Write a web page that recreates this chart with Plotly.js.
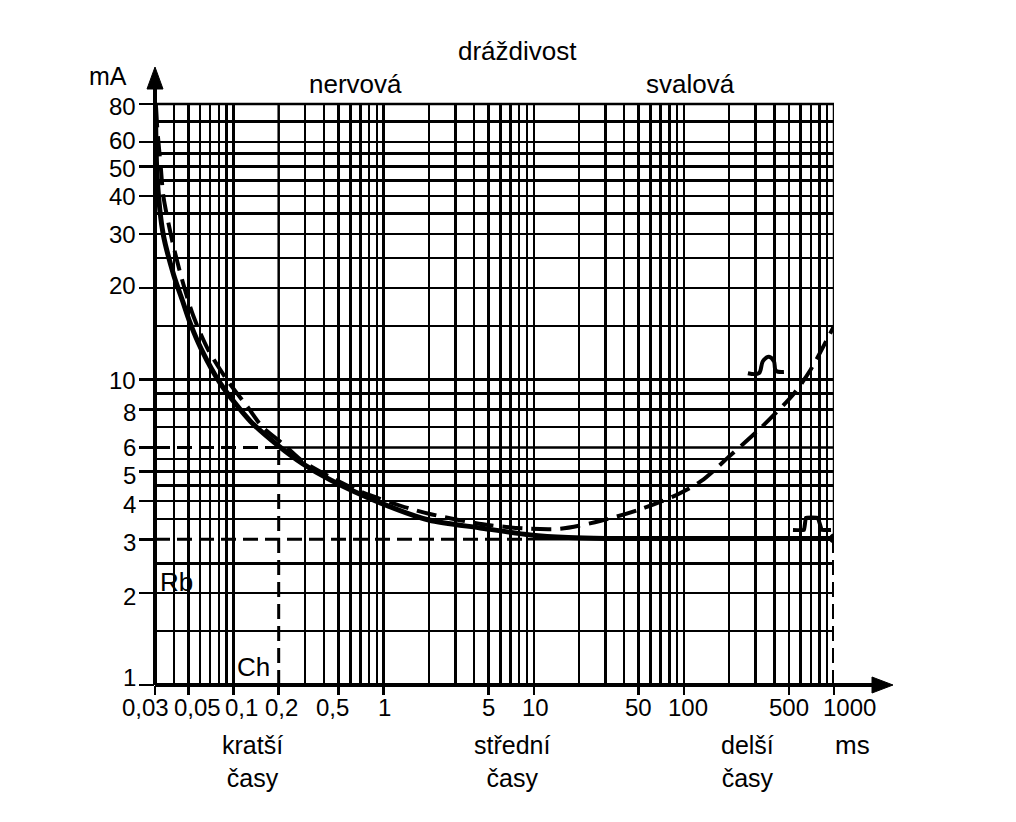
<!DOCTYPE html>
<html>
<head>
<meta charset="utf-8">
<script src="https://cdn.plot.ly/plotly-3.0.1.min.js"></script>
<style>html,body{margin:0;padding:0;background:#fff;}#chart{width:1016px;height:822px;}</style>
</head>
<body>
<div id="chart"></div>
<script>
// ---- data ----
const solidT = [0.0302, 0.031, 0.034, 0.040, 0.046, 0.051, 0.061, 0.082, 0.13, 0.197, 0.29, 0.44, 0.95, 2.0, 4.4, 9.5, 17, 30, 100, 1000];
const solidI = [80, 46, 30, 22, 18, 15.5, 12.6, 9.7, 7.3, 6.1, 5.3, 4.7, 3.95, 3.47, 3.27, 3.10, 3.04, 3.02, 3.02, 3.02];

const dashT = [0.0305, 0.0311, 0.0328, 0.0341, 0.0394, 0.0464, 0.0542, 0.068, 0.093, 0.124, 0.156, 0.215, 0.29, 0.44, 0.70, 1.5, 2.1, 4.6, 8.5, 15, 28, 50, 90, 130, 200, 330, 540, 700, 1000];
const dashI = [78, 66, 49.5, 40, 28, 20.5, 16.1, 12.5, 9.8, 8.15, 7.0, 6.15, 5.4, 4.8, 4.3, 3.78, 3.62, 3.36, 3.26, 3.25, 3.45, 3.75, 4.2, 4.65, 5.6, 7.0, 9.0, 10.8, 15];

const rheobase = 3;        // Rb, mA
const chronaxie = 0.2;     // Ch, ms
const rheobaseLineEnd = 9; // ms, where the dashed Rb line meets the curve

// small pulse-shape glyphs drawn on the chart
const expPulseT = [267, 316, 336, 369, 398, 410, 464];
const expPulseI = [10.5, 10.5, 11.5, 11.9, 11.5, 10.7, 10.6];
const rectPulseT = [533, 631, 650, 780, 830, 955];
const rectPulseI = [3.22, 3.22, 3.53, 3.53, 3.22, 3.22];

// axes
const xMin = 0.03, xMax = 1000, yMin = 1, yMax = 80;
const xTickVals = [0.03, 0.05, 0.1, 0.2, 0.5, 1, 5, 10, 50, 100, 500, 1000];
const xTickText = ['0,03', '0,05', '0,1', '0,2', '0,5', '1', '5', '10', '50', '100', '500', '1000'];
const yTickVals = [1, 2, 3, 4, 5, 6, 8, 10, 20, 30, 40, 50, 60, 80];
const yTickText = ['1', '2', '3', '4', '5', '6', '8', '10', '20', '30', '40', '50', '60', '80'];
const gridDigits = [1, 2, 3, 4, 5, 6, 7, 8, 9];
const gridDecades = [0.01, 0.1, 1, 10, 100];
// full-height horizontal grid lines (3 and 6 are drawn separately, partly dashed)
const yGrid = [1.5, 2, 2.5, 3.5, 4, 4.5, 5, 5.5, 7, 8, 9, 10, 15, 20, 25, 30, 35, 40, 45, 50, 55, 60, 70];

// ---- layout helpers ----
const W = 1016, H = 822;
const M = {l: 155, r: 182, t: 104, b: 137};
const PW = W - M.l - M.r, PH = H - M.t - M.b;
const FONT = 'Liberation Sans, Arial, Helvetica, sans-serif';
const px = v => (v - M.l) / PW;
const py = v => (H - M.b - v) / PH;

const xGrid = [];
gridDecades.forEach(d => gridDigits.forEach(g => {
  const v = +(g * d).toPrecision(3);
  if (v > xMin + 1e-9 && v < xMax - 1e-9 && Math.abs(v - chronaxie) > 1e-9) xGrid.push(v);
}));

const xLabelShift = [-10, 9, 8, 3, -6, 1, 0, 2, 0, 4, 0, 15];
const yLabelShift = [8, -3, -3, -3, -4, 0, -3, -1, 2, 0, -1, -2.5, 1.5, -2];

const DASH = '15px,7px';
const GRIDW = 2.5;
const gridSeg = (x, y) => ({x: x, y: y, mode: 'lines', line: {color: '#000', width: GRIDW}, hoverinfo: 'skip'});
const traces = [
  // grid pieces that are not dashed
  gridSeg([chronaxie, xMax], [2 * rheobase, 2 * rheobase]),
  gridSeg([chronaxie, chronaxie], [2 * rheobase, yMax]),
  gridSeg([rheobaseLineEnd, xMax], [rheobase, rheobase]),
  gridSeg([xMax, xMax], [rheobase, yMax]),
  // dashed reference lines (2·Rb, Ch, Rb)
  {x: [xMin, chronaxie], y: [2 * rheobase, 2 * rheobase], mode: 'lines',
   line: {color: '#000', width: 3, dash: DASH}, hoverinfo: 'skip'},
  {x: [chronaxie, chronaxie], y: [yMin, 2 * rheobase], mode: 'lines',
   line: {color: '#000', width: 3, dash: DASH}, hoverinfo: 'skip'},
  {x: [xMin, rheobaseLineEnd], y: [rheobase, rheobase], mode: 'lines',
   line: {color: '#000', width: 3, dash: DASH}, hoverinfo: 'skip'},
  {x: [xMax, xMax], y: [yMin, rheobase], mode: 'lines',
   line: {color: '#000', width: 4, dash: DASH}, hoverinfo: 'skip'},
  // curves
  {x: dashT, y: dashI, mode: 'lines',
   line: {color: '#000', width: 4, dash: '20px,9px', shape: 'spline', smoothing: 0.8}},
  {x: solidT, y: solidI, mode: 'lines',
   line: {color: '#000', width: 5, shape: 'spline', smoothing: 0.8}},
  {x: [solidT[solidT.length - 1]], y: [solidI[solidI.length - 1]], mode: 'markers',
   marker: {color: '#000', size: 10}},
  {x: expPulseT, y: expPulseI, mode: 'lines',
   line: {color: '#000', width: 4, shape: 'spline', smoothing: 1}},
  {x: rectPulseT, y: rectPulseI, mode: 'lines',
   line: {color: '#000', width: 4, shape: 'spline', smoothing: 0.2}}
];

const annotations = [];
xTickVals.forEach((v, i) => {
  annotations.push({xref: 'x', yref: 'paper', x: Math.log10(v), y: py(707),
    xanchor: 'center', yanchor: 'middle', xshift: xLabelShift[i],
    text: xTickText[i], showarrow: false, font: {family: FONT, size: 24, color: '#000'}});
});
yTickVals.forEach((v, i) => {
  annotations.push({xref: 'paper', yref: 'y', x: 0, y: Math.log10(v),
    xanchor: 'right', yanchor: 'middle', xshift: -17, yshift: yLabelShift[i],
    text: yTickText[i], showarrow: false, font: {family: FONT, size: 24, color: '#000'}});
});
function label(text, x, y, size) {
  annotations.push({xref: 'paper', yref: 'paper', x: px(x), y: py(y),
    xanchor: 'center', yanchor: 'middle', align: 'center', text: text, showarrow: false,
    font: {family: FONT, size: size, color: '#000'}});
}
label('dráždivost', 517, 51, 26);
label('nervová', 355, 84, 26);
label('svalová', 690, 84, 26);
label('mA', 108, 76, 25);
label('kratší<br>časy', 252, 761, 25);
label('střední<br>časy', 512, 761, 25);
label('delší<br>časy', 747, 761, 25);
label('ms', 853, 745, 26);
label('Rb', 176, 582, 26);
label('Ch', 253, 667, 26);

const shapes = [
  // top border (80 mA)
  {type: 'line', xref: 'paper', yref: 'paper', x0: 0, x1: 1, y0: 1, y1: 1, line: {color: '#000', width: GRIDW}},
  // x axis with arrow
  {type: 'line', xref: 'paper', yref: 'paper', x0: 0, x1: px(876), y0: 0, y1: 0, line: {color: '#000', width: 4}},
  {type: 'path', xref: 'paper', yref: 'paper',
   path: `M ${px(872)} ${py(677)} L ${px(893)} ${py(685)} L ${px(872)} ${py(693)} Z`,
   fillcolor: '#000', line: {color: '#000', width: 1}},
  // y axis with arrow
  {type: 'line', xref: 'paper', yref: 'paper', x0: 0, x1: 0, y0: 0, y1: py(86), line: {color: '#000', width: 4}},
  {type: 'path', xref: 'paper', yref: 'paper',
   path: `M ${px(147)} ${py(89)} L ${px(155)} ${py(67)} L ${px(163)} ${py(89)} Z`,
   fillcolor: '#000', line: {color: '#000', width: 1}}
];

const layout = {
  width: W, height: H,
  margin: M,
  paper_bgcolor: '#fff', plot_bgcolor: '#fff',
  showlegend: false,
  font: {family: FONT, color: '#000'},
  xaxis: {
    type: 'log', range: [Math.log10(xMin), Math.log10(xMax)],
    tickmode: 'array', tickvals: xTickVals, ticktext: xTickText, showticklabels: false,
    ticks: 'outside', ticklen: 9, tickwidth: 2.5, tickcolor: '#000',
    showgrid: false,
    minor: {tickmode: 'array', tickvals: xGrid, ticks: '', showgrid: true, gridcolor: '#000', gridwidth: GRIDW},
    showline: false, zeroline: false, fixedrange: true
  },
  yaxis: {
    type: 'log', range: [Math.log10(yMin), Math.log10(yMax)],
    tickmode: 'array', tickvals: yTickVals, ticktext: yTickText, showticklabels: false,
    ticks: 'outside', ticklen: 15, tickwidth: 2.5, tickcolor: '#000',
    showgrid: false,
    minor: {tickmode: 'array', tickvals: yGrid, ticks: '', showgrid: true, gridcolor: '#000', gridwidth: GRIDW},
    showline: false, zeroline: false, fixedrange: true
  },
  annotations: annotations,
  shapes: shapes
};

Plotly.newPlot('chart', traces, layout, {staticPlot: true, displayModeBar: false});
</script>
</body>
</html>
